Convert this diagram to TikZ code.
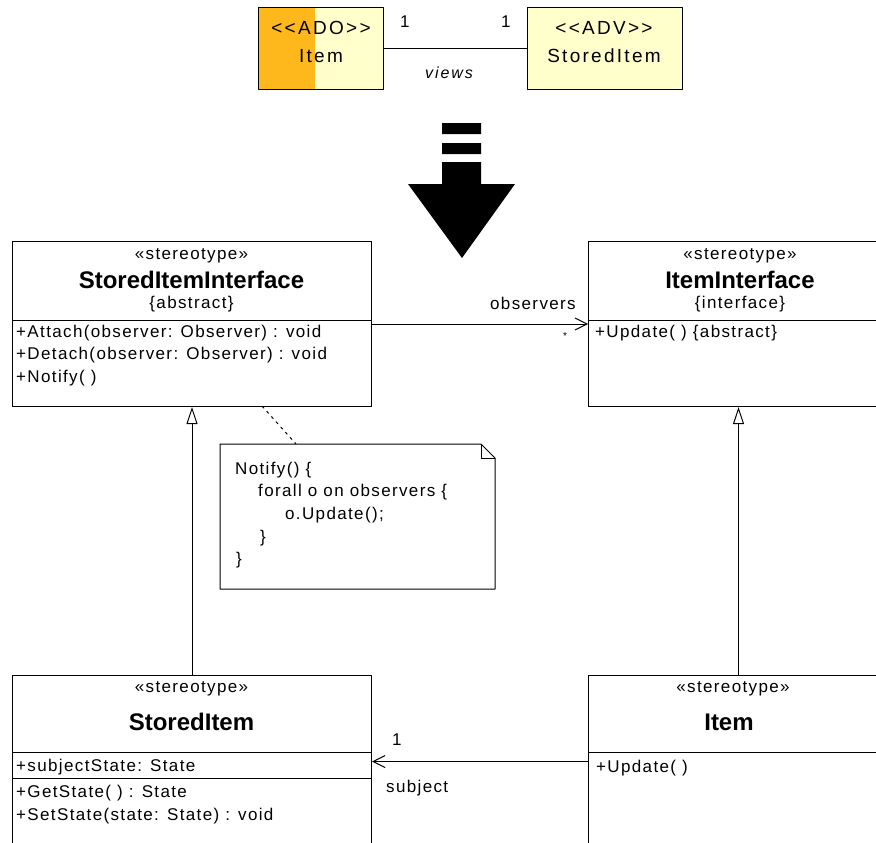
\documentclass[tikz,border=0pt]{standalone}
\usepackage{fontspec}
\setmainfont{Liberation Sans}
\newfontfamily\umlfont[LetterSpace=8]{Liberation Sans}
\newfontfamily\topfont[LetterSpace=12]{Liberation Sans}
\usetikzlibrary{arrows.meta}
\definecolor{adoorange}{HTML}{FFB81C}
\definecolor{paleyellow}{HTML}{FFFFCC}
\tikzset{
  box/.style={draw, line width=1pt, inner sep=0pt, anchor=north west},
  txt/.style={font=\umlfont\fontsize{17}{20}\selectfont, inner sep=0pt},
  member/.style={txt, anchor=base west},
  header/.style={txt, anchor=base},
  classname/.style={font=\bfseries\fontsize{24}{28}\selectfont, inner sep=0pt, anchor=base},
  toptxt/.style={font=\topfont\fontsize{19}{22}\selectfont, inner sep=0pt, anchor=base},
  assoc/.style={line width=1pt, -{Straight Barb[length=12pt, width=12pt]}},
  inherit/.style={line width=1pt, -{Triangle[open, length=17pt, width=11pt]}},
  notelink/.style={line width=1pt, dash pattern=on 3pt off 4pt}
}
\begin{document}
\begin{tikzpicture}[x=1pt, y=-1pt, line join=round]
  \useasboundingbox (0,0) rectangle (876,843);
  \clip (0,0) rectangle (876,843);
  % mapping at the top
  \fill[paleyellow] (258,7) rectangle (383,89) (527,7) rectangle (682,89);
  \fill[adoorange] (258,7) rectangle (315,89);
  \node[box, minimum width=125pt, minimum height=82pt] (ado) at (258,7) {};
  \node[box, minimum width=155pt, minimum height=82pt] (adv) at (527,7) {};
  \node[toptxt] (adoster) at (321,35) {<<ADO>>};
  \node[toptxt] (adoname) at (321,63) {Item};
  \node[toptxt] (advster) at (604,35) {<<ADV>>};
  \node[toptxt] (advname) at (604,63) {StoredItem};
  \draw[line width=1pt] (ado.east) -- (adv.west);
  \node[toptxt, anchor=base west, font=\topfont\fontsize{17}{20}\selectfont] (mulado) at (400,28) {1};
  \node[toptxt, anchor=base west, font=\topfont\fontsize{17}{20}\selectfont] (muladv) at (501,28) {1};
  \node[toptxt, font=\topfont\itshape\fontsize{16}{19}\selectfont] (views) at (449,78) {views};
  % big arrow
  \fill (442,123) rectangle (481,134) (442,143) rectangle (481,154);
  \fill (442,162) -- (481,162) -- (481,184) -- (515,184) -- (462,258)
        -- (408,184) -- (442,184) -- cycle;
  % classes
  \node[box, minimum width=359pt, minimum height=165pt] (sii) at (12,241) {};
  \node[box, minimum width=300pt, minimum height=165pt] (ii) at (588,241) {};
  \node[box, minimum width=359pt, minimum height=172pt] (si) at (12,675) {};
  \node[box, minimum width=300pt, minimum height=172pt] (item) at (588,675) {};
  \draw[line width=1pt] (12,320) -- (371,320) (588,320) -- (888,320)
        (12,752) -- (371,752) (12,778) -- (371,778) (588,752) -- (888,752);
  \node[header] (siister) at (191.5,259) {«stereotype»};
  \node[classname] (siiname) at (191.5,288) {StoredItemInterface};
  \node[header] (siiprop) at (191.5,308) {\{abstract\}};
  \foreach \t [count=\i] in {{+Attach(observer: Observer) : void},
      {+Detach(observer: Observer) : void}, {+Notify( )}}
    \node[member] (siiop\i) at (16,{337+22.5*(\i-1)}) {\t};
  \node[header] (iister) at (740,259) {«stereotype»};
  \node[classname] (iiname) at (740,288) {ItemInterface};
  \node[header] (iiprop) at (740,308) {\{interface\}};
  \node[member] (iiop) at (595,337) {+Update( ) \{abstract\}};
  \node[header] (sister) at (191.5,692) {«stereotype»};
  \node[classname] (siname) at (191.5,730) {StoredItem};
  \node[member] (siattr) at (16,771) {+subjectState: State};
  \node[member] (siop1) at (16,797) {+GetState( ) : State};
  \node[member] (siop2) at (16,820) {+SetState(state: State) : void};
  \node[header] (itemster) at (733,692) {«stereotype»};
  \node[classname] (itemname) at (729,730) {Item};
  \node[member] (itemop) at (596,772) {+Update( )};
  % note
  \node[box, draw=none, minimum width=275pt, minimum height=144pt] (note) at (220,444) {};
  \draw[line width=1pt] (note.north west) -- ++(261,0) -- ++(14,14) |- (note.south west) -- cycle;
  \draw[line width=1pt] (481,444) |- (495,458);
  \foreach \x/\t [count=\i] in {235/{Notify() \{}, 258/{forall o on observers \{},
      285/{o.Update();}, 260/{\}}, 236/{\}}}
    \node[member] (noteline\i) at (\x,{474+22.7*(\i-1)}) {\t};
  \coordinate (nlA) at (262,406);
  \coordinate (nlB) at (296,444);
  \draw[notelink] (nlA) -- (nlB);
  % connectors
  \draw[assoc] (sii.east) -- (ii.west);
  \node[member] (obslabel) at (490,309) {observers};
  \node[txt, font=\fontsize{10}{11}\selectfont] (obsmult) at (565,336) {*};
  \draw[assoc] (item.west) -- (si.east);
  \node[member] (submult) at (392,745) {1};
  \node[member] (sublabel) at (386,792) {subject};
  \draw[inherit] (si.north) -- (sii.south);
  \draw[inherit] (item.north) -- (ii.south);
\end{tikzpicture}
\end{document}
